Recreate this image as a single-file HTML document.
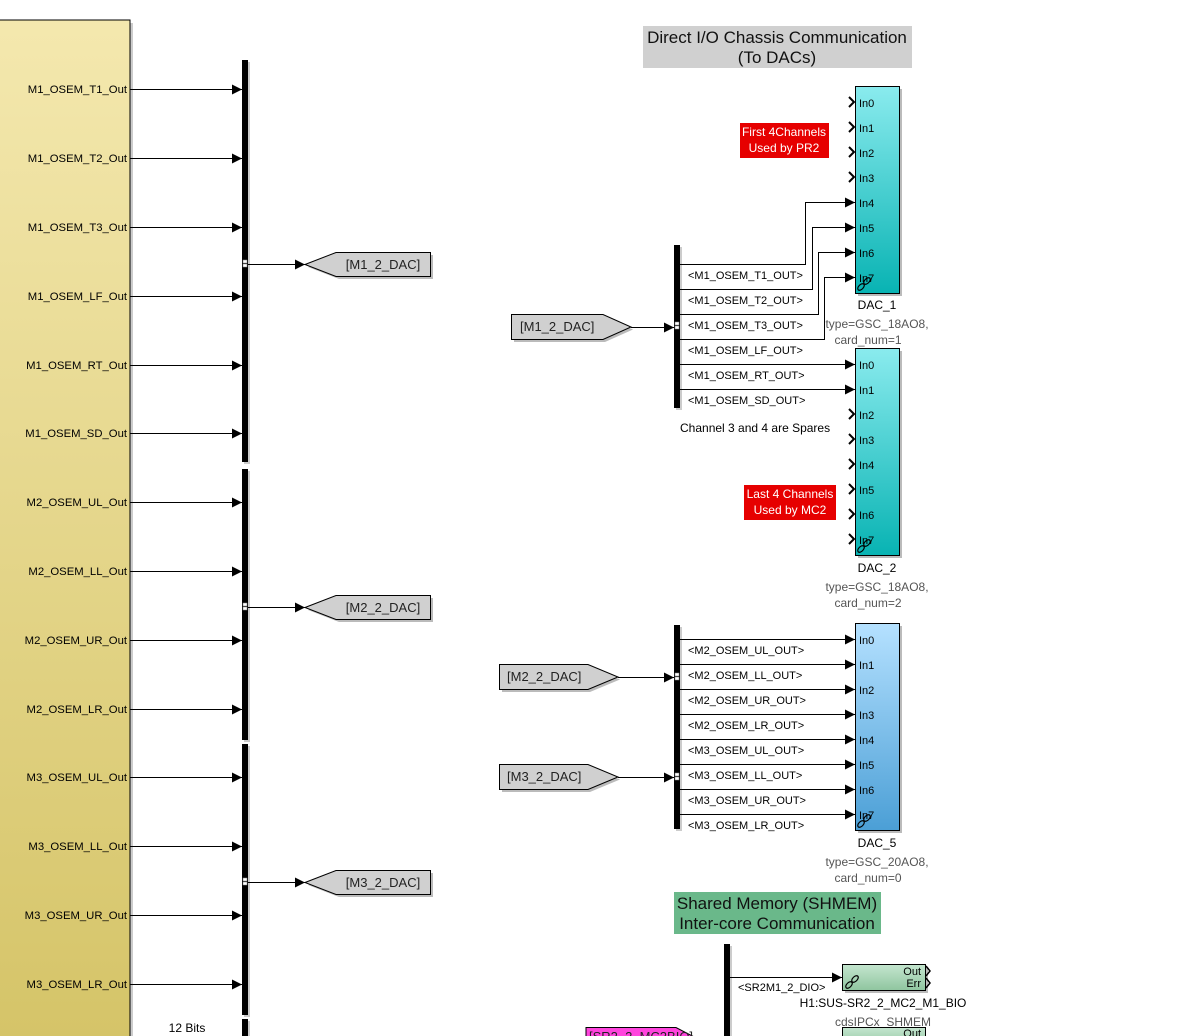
<!DOCTYPE html>
<html><head><meta charset="utf-8"><style>
html,body{margin:0;padding:0;background:#fff;}
svg{display:block;font-family:"Liberation Sans",Arial,sans-serif;}
</style></head><body>
<svg width="1192" height="1036" viewBox="0 0 1192 1036" xmlns="http://www.w3.org/2000/svg">
<defs>
<linearGradient id="yel" x1="0" y1="0" x2="0" y2="1"><stop offset="0" stop-color="#f4e8ae"/><stop offset="1" stop-color="#d5c468"/></linearGradient>
<linearGradient id="cy" x1="0" y1="0" x2="0" y2="1"><stop offset="0" stop-color="#8aebee"/><stop offset="1" stop-color="#08b3b3"/></linearGradient>
<linearGradient id="bl" x1="0" y1="0" x2="0" y2="1"><stop offset="0" stop-color="#b5e1ff"/><stop offset="1" stop-color="#4b9fd6"/></linearGradient>
<linearGradient id="gr" x1="0" y1="0" x2="0" y2="1"><stop offset="0" stop-color="#c4e6cf"/><stop offset="1" stop-color="#8fc59f"/></linearGradient>
<marker id="ar" viewBox="0 0 10 10" refX="10" refY="5" markerWidth="10" markerHeight="10" markerUnits="userSpaceOnUse" orient="auto"><path d="M0,0 L10,5 L0,10 z" fill="#000"/></marker>
<g id="lnk" fill="none" stroke="#000" stroke-width="1.2"><ellipse cx="-3" cy="3" rx="4" ry="2.3" transform="rotate(-45 -3 3)" fill="none"/><ellipse cx="3" cy="-3" rx="4" ry="2.3" transform="rotate(-45 3 -3)"/></g>
</defs>

<!-- left block -->
<rect x="3" y="23" width="130" height="1020" fill="#ccc"/>
<rect x="-1" y="20" width="131" height="1020" fill="url(#yel)" stroke="#000" stroke-width="1"/>
<g font-size="11.3" text-anchor="end" fill="#000">
<text x="127" y="93">M1_OSEM_T1_Out</text>
<text x="127" y="162">M1_OSEM_T2_Out</text>
<text x="127" y="231">M1_OSEM_T3_Out</text>
<text x="127" y="300">M1_OSEM_LF_Out</text>
<text x="127" y="369">M1_OSEM_RT_Out</text>
<text x="127" y="437">M1_OSEM_SD_Out</text>
<text x="127" y="506">M2_OSEM_UL_Out</text>
<text x="127" y="575">M2_OSEM_LL_Out</text>
<text x="127" y="644">M2_OSEM_UR_Out</text>
<text x="127" y="713">M2_OSEM_LR_Out</text>
<text x="127" y="781">M3_OSEM_UL_Out</text>
<text x="127" y="850">M3_OSEM_LL_Out</text>
<text x="127" y="919">M3_OSEM_UR_Out</text>
<text x="127" y="988">M3_OSEM_LR_Out</text>
</g>
<g stroke="#000" stroke-width="1" marker-end="url(#ar)">
<line x1="130" y1="89.5" x2="242" y2="89.5"/>
<line x1="130" y1="158.5" x2="242" y2="158.5"/>
<line x1="130" y1="227.5" x2="242" y2="227.5"/>
<line x1="130" y1="296.5" x2="242" y2="296.5"/>
<line x1="130" y1="365.5" x2="242" y2="365.5"/>
<line x1="130" y1="433.5" x2="242" y2="433.5"/>
<line x1="130" y1="502.5" x2="242" y2="502.5"/>
<line x1="130" y1="571.5" x2="242" y2="571.5"/>
<line x1="130" y1="640.5" x2="242" y2="640.5"/>
<line x1="130" y1="709.5" x2="242" y2="709.5"/>
<line x1="130" y1="777.5" x2="242" y2="777.5"/>
<line x1="130" y1="846.5" x2="242" y2="846.5"/>
<line x1="130" y1="915.5" x2="242" y2="915.5"/>
<line x1="130" y1="984.5" x2="242" y2="984.5"/>
</g>
<!-- mux bars -->
<g fill="#ccc"><rect x="244" y="62" width="6" height="402"/><rect x="244" y="471" width="6" height="271"/><rect x="244" y="746" width="6" height="271"/><rect x="244" y="1021" width="6" height="20"/></g>
<g fill="#000"><rect x="242" y="60" width="6" height="402"/><rect x="242" y="469" width="6" height="271"/><rect x="242" y="744" width="6" height="271"/><rect x="242" y="1019" width="6" height="20"/></g>
<g fill="#fff" stroke="#888" stroke-width="0.5"><rect x="243" y="260" width="4" height="3"/><rect x="243" y="264" width="4" height="3"/><rect x="243" y="603" width="4" height="3"/><rect x="243" y="607" width="4" height="3"/><rect x="243" y="878" width="4" height="3"/><rect x="243" y="882" width="4" height="3"/></g>
<g stroke="#000" marker-end="url(#ar)"><line x1="248" y1="264.5" x2="305" y2="264.5"/><line x1="248" y1="607.5" x2="305" y2="607.5"/><line x1="248" y1="882.5" x2="305" y2="882.5"/></g>
<g fill="#d0d0d0" stroke="#000" stroke-width="1">
<polygon points="308,267 339,279 433,279 433,255 339,255" fill="#bbb" stroke="none"/>
<polygon points="305,264.5 336,252.5 430.5,252.5 430.5,276.5 336,276.5"/>
<polygon points="308,610 339,622 433,622 433,598 339,598" fill="#bbb" stroke="none"/>
<polygon points="305,607.5 336,595.5 430.5,595.5 430.5,619.5 336,619.5"/>
<polygon points="308,885 339,897 433,897 433,873 339,873" fill="#bbb" stroke="none"/>
<polygon points="305,882.5 336,870.5 430.5,870.5 430.5,894.5 336,894.5"/>
</g>
<g font-size="13" fill="#222" text-anchor="middle"><text x="383" y="269">[M1_2_DAC]</text><text x="383" y="612">[M2_2_DAC]</text><text x="383" y="887">[M3_2_DAC]</text></g>
<text x="187" y="1032" font-size="12" text-anchor="middle">12 Bits</text>

<!-- title -->
<rect x="643" y="26" width="269" height="42" fill="#d0d0d0"/>
<text x="777" y="43" font-size="17" text-anchor="middle" fill="#111">Direct I/O Chassis Communication</text>
<text x="777" y="63" font-size="17" text-anchor="middle" fill="#111">(To DACs)</text>

<!-- DAC1/DAC2 demux -->
<rect x="676" y="247" width="6" height="163" fill="#ccc"/><rect x="674" y="245" width="6" height="163" fill="#000"/>
<g fill="#fff" stroke="#888" stroke-width="0.5"><rect x="675" y="322" width="4" height="3"/><rect x="675" y="326" width="4" height="3"/></g>
<polygon points="514,317 605,317 633,329.5 605,342 514,342" fill="#bbb"/>
<polygon points="511.5,314.5 603,314.5 631,327 603,339.5 511.5,339.5" fill="#d0d0d0" stroke="#000"/>
<text x="520" y="331" font-size="13" fill="#222">[M1_2_DAC]</text>
<line x1="631" y1="327.5" x2="674" y2="327.5" stroke="#000" marker-end="url(#ar)"/>
<g fill="none" stroke="#000" marker-end="url(#ar)">
<polyline points="680,264.5 805.5,264.5 805.5,202.5 855,202.5"/>
<polyline points="680,289.5 812.5,289.5 812.5,227.5 855,227.5"/>
<polyline points="680,314.5 818.5,314.5 818.5,252.5 855,252.5"/>
<polyline points="680,339.5 824.5,339.5 824.5,277.5 855,277.5"/>
<line x1="680" y1="364.5" x2="855" y2="364.5"/>
<line x1="680" y1="389.5" x2="855" y2="389.5"/>
</g>
<g font-size="11" fill="#000">
<text x="688" y="279">&lt;M1_OSEM_T1_OUT&gt;</text>
<text x="688" y="304">&lt;M1_OSEM_T2_OUT&gt;</text>
<text x="688" y="329">&lt;M1_OSEM_T3_OUT&gt;</text>
<text x="688" y="354">&lt;M1_OSEM_LF_OUT&gt;</text>
<text x="688" y="379">&lt;M1_OSEM_RT_OUT&gt;</text>
<text x="688" y="404">&lt;M1_OSEM_SD_OUT&gt;</text>
</g>
<text x="680" y="432" font-size="12">Channel 3 and 4 are Spares</text>

<!-- DAC_1 -->
<rect x="858" y="89" width="44" height="207" fill="#bbb"/>
<rect x="855.5" y="86.5" width="44" height="207" fill="url(#cy)" stroke="#000"/>
<g font-size="11"><text x="859" y="107">In0</text><text x="859" y="132">In1</text><text x="859" y="157">In2</text><text x="859" y="182">In3</text><text x="859" y="207">In4</text><text x="859" y="232">In5</text><text x="859" y="257">In6</text><text x="859" y="282">In7</text></g>
<g fill="none" stroke="#000" stroke-width="2"><polyline points="849,97 854,102 849,107"/><polyline points="849,122 854,127 849,132"/><polyline points="849,147 854,152 849,157"/><polyline points="849,172 854,177 849,182"/></g>
<use href="#lnk" x="864" y="284"/>
<text x="877" y="309" font-size="12" text-anchor="middle">DAC_1</text>
<text x="877" y="328" font-size="12" text-anchor="middle" fill="#555">type=GSC_18AO8,</text>
<text x="868" y="344" font-size="12" text-anchor="middle" fill="#555">card_num=1</text>
<rect x="740" y="123" width="89" height="35" fill="#e60000"/>
<text x="784" y="136" font-size="12" text-anchor="middle" fill="#fff">First 4Channels</text>
<text x="784" y="152" font-size="12" text-anchor="middle" fill="#fff">Used by PR2</text>

<!-- DAC_2 -->
<rect x="858" y="351" width="44" height="207" fill="#bbb"/>
<rect x="855.5" y="348.5" width="44" height="207" fill="url(#cy)" stroke="#000"/>
<g font-size="11"><text x="859" y="369">In0</text><text x="859" y="394">In1</text><text x="859" y="419">In2</text><text x="859" y="444">In3</text><text x="859" y="469">In4</text><text x="859" y="494">In5</text><text x="859" y="519">In6</text><text x="859" y="544">In7</text></g>
<g fill="none" stroke="#000" stroke-width="2"><polyline points="849,409 854,414 849,419"/><polyline points="849,434 854,439 849,444"/><polyline points="849,459 854,464 849,469"/><polyline points="849,484 854,489 849,494"/><polyline points="849,509 854,514 849,519"/><polyline points="849,534 854,539 849,544"/></g>
<use href="#lnk" x="864" y="546"/>
<text x="877" y="572" font-size="12" text-anchor="middle">DAC_2</text>
<text x="877" y="591" font-size="12" text-anchor="middle" fill="#555">type=GSC_18AO8,</text>
<text x="868" y="607" font-size="12" text-anchor="middle" fill="#555">card_num=2</text>
<rect x="744" y="485" width="92" height="35" fill="#e60000"/>
<text x="790" y="498" font-size="12" text-anchor="middle" fill="#fff">Last 4 Channels</text>
<text x="790" y="514" font-size="12" text-anchor="middle" fill="#fff">Used by MC2</text>

<!-- DAC_5 section -->
<rect x="676" y="627" width="6" height="204" fill="#ccc"/><rect x="674" y="625" width="6" height="204" fill="#000"/>
<g fill="#fff" stroke="#888" stroke-width="0.5"><rect x="675" y="673" width="4" height="3"/><rect x="675" y="677" width="4" height="3"/><rect x="675" y="773" width="4" height="3"/><rect x="675" y="777" width="4" height="3"/></g>
<polygon points="502,667 590,667 620,679.5 590,692 502,692" fill="#bbb"/>
<polygon points="499.5,664.5 588,664.5 618,677 588,689.5 499.5,689.5" fill="#d0d0d0" stroke="#000"/>
<text x="507" y="681" font-size="13" fill="#222">[M2_2_DAC]</text>
<polygon points="502,767 590,767 620,779.5 590,792 502,792" fill="#bbb"/>
<polygon points="499.5,764.5 588,764.5 618,777 588,789.5 499.5,789.5" fill="#d0d0d0" stroke="#000"/>
<text x="507" y="781" font-size="13" fill="#222">[M3_2_DAC]</text>
<g stroke="#000" marker-end="url(#ar)">
<line x1="618" y1="677.5" x2="674" y2="677.5"/><line x1="618" y1="777.5" x2="674" y2="777.5"/>
<line x1="680" y1="639.5" x2="855" y2="639.5"/><line x1="680" y1="664.5" x2="855" y2="664.5"/><line x1="680" y1="689.5" x2="855" y2="689.5"/><line x1="680" y1="714.5" x2="855" y2="714.5"/><line x1="680" y1="739.5" x2="855" y2="739.5"/><line x1="680" y1="764.5" x2="855" y2="764.5"/><line x1="680" y1="789.5" x2="855" y2="789.5"/><line x1="680" y1="814.5" x2="855" y2="814.5"/>
</g>
<g font-size="11">
<text x="688" y="654">&lt;M2_OSEM_UL_OUT&gt;</text>
<text x="688" y="679">&lt;M2_OSEM_LL_OUT&gt;</text>
<text x="688" y="704">&lt;M2_OSEM_UR_OUT&gt;</text>
<text x="688" y="729">&lt;M2_OSEM_LR_OUT&gt;</text>
<text x="688" y="754">&lt;M3_OSEM_UL_OUT&gt;</text>
<text x="688" y="779">&lt;M3_OSEM_LL_OUT&gt;</text>
<text x="688" y="804">&lt;M3_OSEM_UR_OUT&gt;</text>
<text x="688" y="829">&lt;M3_OSEM_LR_OUT&gt;</text>
</g>
<rect x="858" y="626" width="44" height="207" fill="#bbb"/>
<rect x="855.5" y="623.5" width="44" height="207" fill="url(#bl)" stroke="#000"/>
<g font-size="11"><text x="859" y="644">In0</text><text x="859" y="669">In1</text><text x="859" y="694">In2</text><text x="859" y="719">In3</text><text x="859" y="744">In4</text><text x="859" y="769">In5</text><text x="859" y="794">In6</text><text x="859" y="819">In7</text></g>
<use href="#lnk" x="864" y="821"/>
<text x="877" y="847" font-size="12" text-anchor="middle">DAC_5</text>
<text x="877" y="866" font-size="12" text-anchor="middle" fill="#555">type=GSC_20AO8,</text>
<text x="868" y="882" font-size="12" text-anchor="middle" fill="#555">card_num=0</text>

<!-- SHMEM -->
<rect x="674" y="892" width="207" height="42" fill="#6ab88a"/>
<text x="777" y="909" font-size="17" text-anchor="middle" fill="#111">Shared Memory (SHMEM)</text>
<text x="777" y="929" font-size="17" text-anchor="middle" fill="#111">Inter-core Communication</text>
<rect x="726" y="946" width="6" height="95" fill="#ccc"/><rect x="724" y="944" width="6" height="95" fill="#000"/>
<line x1="730" y1="977.5" x2="842" y2="977.5" stroke="#000" marker-end="url(#ar)"/>
<text x="738" y="991" font-size="11">&lt;SR2M1_2_DIO&gt;</text>
<rect x="845" y="967" width="83" height="26" fill="#bbb"/>
<rect x="842.5" y="964.5" width="83" height="26" fill="url(#gr)" stroke="#000"/>
<text x="921" y="975" font-size="11" text-anchor="end">Out</text>
<text x="921" y="987" font-size="11" text-anchor="end">Err</text>
<g fill="none" stroke="#000" stroke-width="1.5"><polyline points="926,966 930,971 926,976"/><polyline points="926,978 930,983 926,988"/></g>
<use href="#lnk" x="852" y="982"/>
<text x="883" y="1007" font-size="12" text-anchor="middle">H1:SUS-SR2_2_MC2_M1_BIO</text>
<text x="883" y="1026" font-size="12" text-anchor="middle" fill="#555">cdsIPCx_SHMEM</text>
<rect x="842.5" y="1027.5" width="83" height="20" fill="url(#gr)" stroke="#000"/>
<text x="921" y="1037" font-size="11" text-anchor="end">Out</text>
<polygon points="586,1027.5 676,1027.5 700,1040 586,1040" fill="#ff44dd" stroke="#000"/>
<text x="589" y="1041" font-size="13" fill="#222">[SR2_2_MC2BIO]</text>
</svg>
</body></html>
